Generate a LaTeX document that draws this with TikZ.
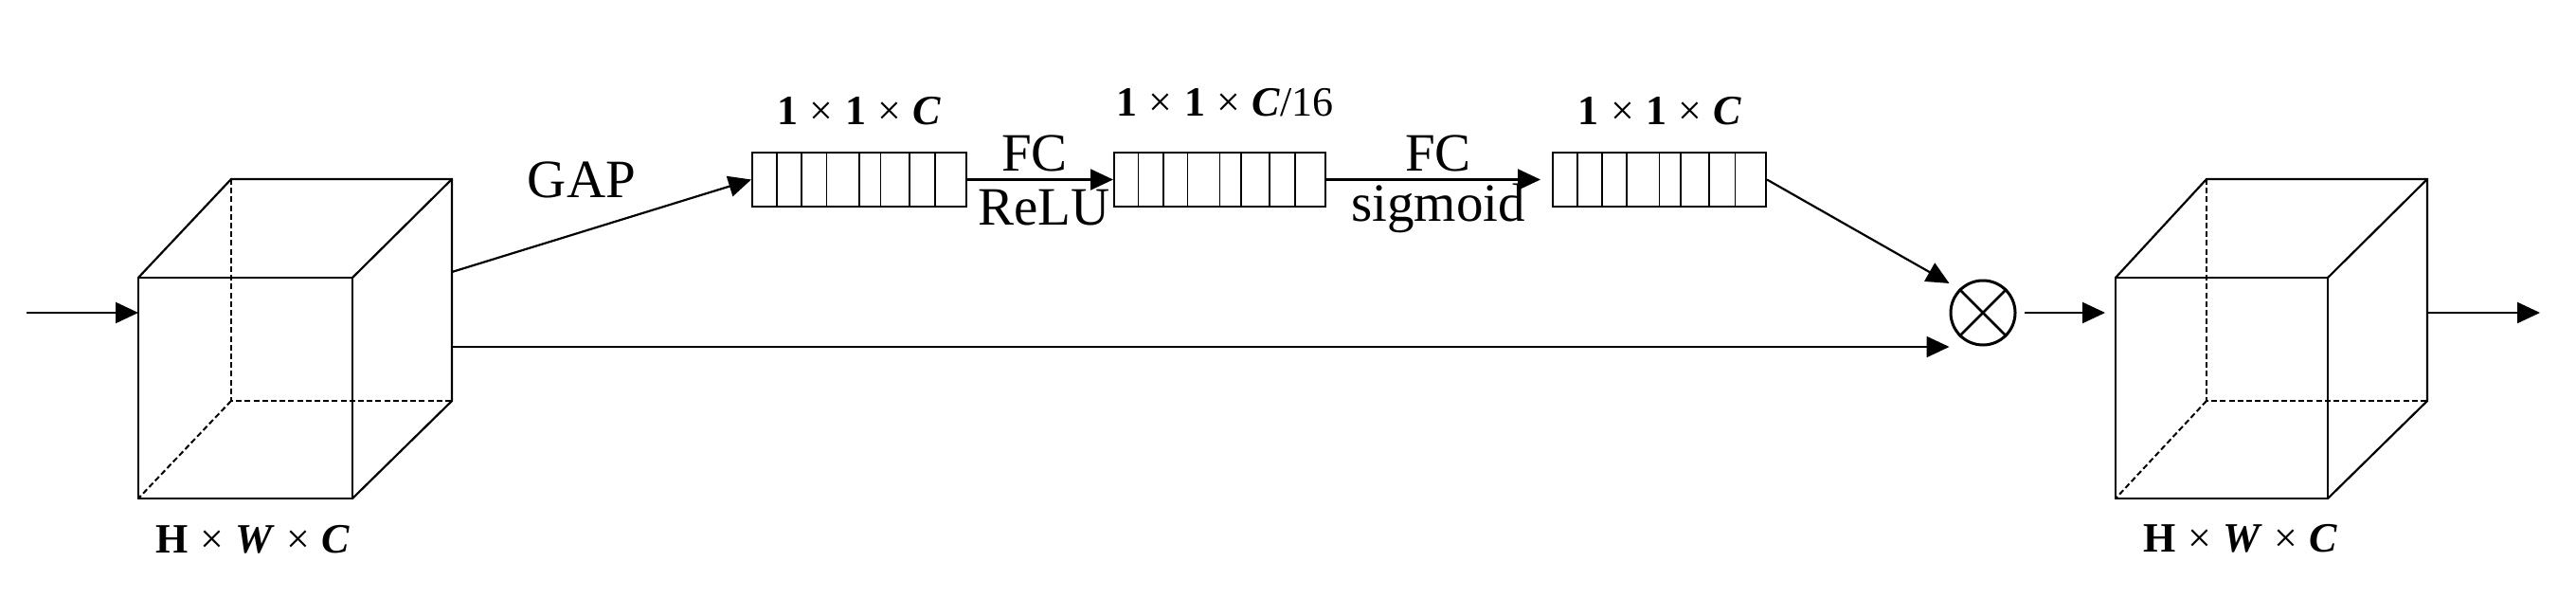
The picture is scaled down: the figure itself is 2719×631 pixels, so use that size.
\documentclass[tikz,border=0pt]{standalone}
\usepackage{fontspec}
\setmainfont{Liberation Serif}
\usetikzlibrary{arrows.meta,calc}
\newcommand{\mytimes}{\hspace{0.28em}×\hspace{0.28em}}
\begin{document}
\begin{tikzpicture}[x=0.5pt,y=-0.5pt,
  edge/.style={line width=1.1pt},
  hid/.style={line width=1pt, dash pattern=on 3pt off 1.6pt},
  arr/.style={line width=1.1pt,-{Triangle[length=12pt,width=11pt]}},
  vec/.style={draw, line width=1pt, rectangle, minimum height=28.5pt, inner sep=0pt},
  big/.style={font=\fontsize{28.5}{30}\selectfont, anchor=base, inner sep=0pt},
  dimlab/.style={font=\fontsize{22}{24}\selectfont, anchor=base, inner sep=0pt},
]
\useasboundingbox (0,0) rectangle (2719,631);

% ---- left cube
\draw[edge] (146,293) rectangle (372,526);
\draw[edge] (146,293) -- (244,189) -- (477,189) -- (477,423) -- (372,526);
\draw[edge] (372,293) -- (477,189);
\draw[hid] (244,189) -- (244,423) -- (477,423);
\draw[hid] (244,423) -- (146,526);
\coordinate (c1in) at (146,330);
\coordinate (c1gap) at (477,287);
\coordinate (c1bot) at (477,366);
\node[dimlab] (lab1) at (267,583) {\textbf{H}\mytimes\textbf{\textit{W}}\mytimes\textbf{\textit{C}}};

% ---- right cube
\draw[edge] (2233,293) rectangle (2457,526);
\draw[edge] (2233,293) -- (2329,189) -- (2562,189) -- (2562,423) -- (2457,526);
\draw[edge] (2457,293) -- (2562,189);
\draw[hid] (2329,189) -- (2329,423) -- (2562,423);
\draw[hid] (2329,423) -- (2233,526);
\coordinate (c2in) at (2233,330);
\coordinate (c2out) at (2562,330);
\node[dimlab] (lab2) at (2365,582) {\textbf{H}\mytimes\textbf{\textit{W}}\mytimes\textbf{\textit{C}}};

% ---- vectors
\node[vec, minimum width=113pt] (b1) at (907,189.5) {};
\node[vec, minimum width=111.5pt] (b2) at (1287.5,189.5) {};
\node[vec, minimum width=112.5pt] (b3) at (1751.5,189.5) {};
\foreach \b in {b1,b2,b3}{
  \foreach \f in {0.118,0.234,0.349,0.500,0.599,0.732,0.852}{
    \draw[line width=0.9pt] ($(\b.north west)!\f!(\b.north east)$) -- ($(\b.south west)!\f!(\b.south east)$);
  }
}
\node[dimlab] (d1) at (907,132) {\textbf{1}\mytimes\textbf{1}\mytimes\textbf{\textit{C}}};
\node[dimlab] (d2) at (1293,123) {\textbf{1}\mytimes\textbf{1}\mytimes\textbf{\textit{C}}/16};
\node[dimlab] (d3) at (1752,132) {\textbf{1}\mytimes\textbf{1}\mytimes\textbf{\textit{C}}};

% ---- multiply
\node[draw, circle, line width=1.5pt, minimum size=34pt, inner sep=0pt] (mul) at (2093,330) {};
\draw[line width=1.3pt] (mul.north west) -- (mul.south east) (mul.north east) -- (mul.south west);

% ---- labels
\node[big] (gap) at (614,208) {GAP};
\node[big] (fc1) at (1092,180) {FC};
\node[big] (relu) at (1102,237) {ReLU};
\node[big] (fc2) at (1518,180) {FC};
\node[big] (sig) at (1518,233) {sigmoid};

% ---- connectors
\coordinate (in) at (28,330);
\coordinate (out) at (2681,330);
\draw[arr] (in) -- (c1in);
\draw[arr] (c1gap) -- (b1.west);
\draw[arr] (b1.east) -- (b2.west);
\draw[arr, shorten >=6pt] (b2.east) -- (b3.west);
\draw[arr, shorten >=6pt] (b3.east) -- (mul.north west);
\draw[arr] (c1bot) -- (c1bot -| mul.west);
\draw[arr, shorten <=4pt, shorten >=5.5pt] (mul.east) -- (c2in);
\draw[arr] (c2out) -- (out);
\end{tikzpicture}
\end{document}
